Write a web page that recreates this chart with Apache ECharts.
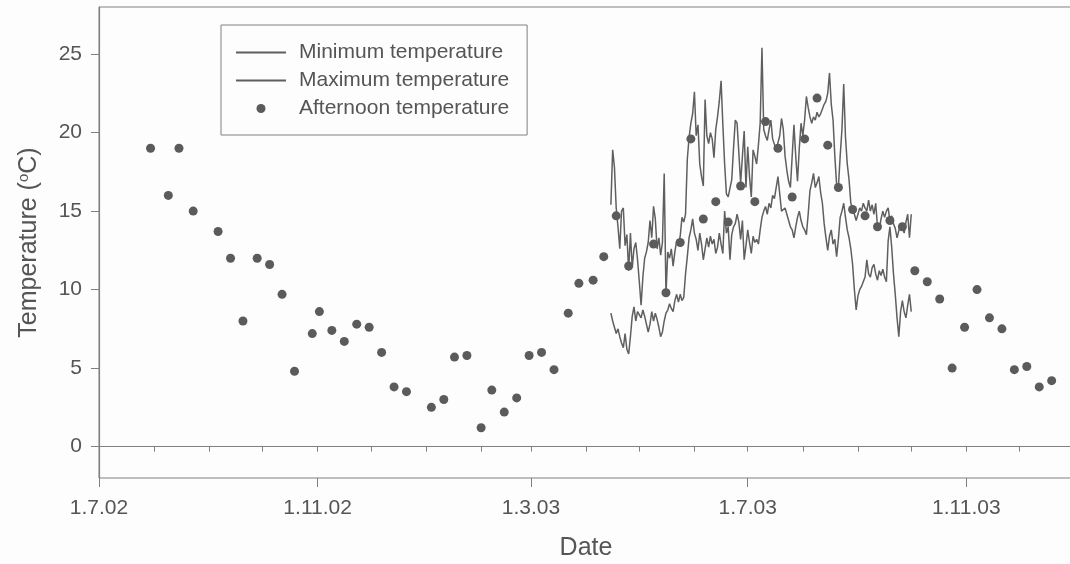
<!DOCTYPE html>
<html>
<head>
<meta charset="utf-8">
<script src="https://cdn.jsdelivr.net/npm/echarts@6/dist/echarts.min.js"></script>
<style>
  html, body { margin: 0; padding: 0; background: #fdfdfd; }
  #chart { width: 1070px; height: 564px; }
</style>
</head>
<body>
<div id="chart"></div>
<script>
// ---------------- DATA ----------------
const dailyStart = '2003-04-15';   // first day of daily min / max records

const minTemp = [
  8.5, 8.0, 7.6, 7.2, 7.5, 7.0, 6.6, 6.3, 7.2, 6.2,
  5.9, 7.0, 8.3, 8.9, 8.0, 8.6, 8.5, 8.2, 8.7, 8.3,
  7.8, 7.3, 7.8, 8.6, 8.0, 8.5, 8.1, 7.6, 7.0, 7.3,
  8.0, 8.5, 8.7, 9.1, 8.8, 8.6, 9.3, 9.7, 9.2, 9.7,
  9.3, 9.5, 11.0, 12.1, 13.3, 13.8, 14.5, 13.6, 13.2, 12.5,
  13.6, 12.9, 11.9, 12.6, 13.3, 12.7, 13.4, 12.9, 13.2, 12.3,
  12.7, 13.6, 12.9, 12.3, 15.0, 13.6, 14.0, 11.9, 13.5, 14.0,
  14.2, 14.8, 14.3, 13.2, 14.4, 11.9, 12.8, 13.8, 13.0, 12.3,
  13.4, 13.0, 13.2, 12.9, 13.8, 14.6, 15.0, 15.3, 14.8, 15.5,
  15.2, 16.0, 15.8, 16.5, 17.2, 16.1, 15.0, 14.9, 15.2, 14.8,
  14.4, 14.0, 13.8, 13.3, 14.0, 14.6, 15.0, 14.4, 14.0, 13.8,
  13.5, 14.8, 16.3, 16.8, 17.4, 16.5, 16.8, 17.2, 16.2, 15.5,
  14.2, 13.3, 12.5, 13.4, 13.8, 12.9, 13.2, 12.1, 13.2, 14.6,
  15.0, 15.5, 14.6, 13.8, 13.3, 12.6, 11.6, 10.0, 8.7, 9.6,
  10.0, 10.2, 10.5, 10.8, 11.9, 11.0, 10.8, 11.4, 11.6, 11.0,
  10.6, 11.2, 10.9, 11.3, 10.8, 10.5, 13.1, 14.0, 12.7, 11.0,
  9.7, 8.2, 7.0, 8.6, 9.3, 8.6, 8.2, 9.0, 9.7, 8.6
];

const maxTemp = [
  15.4, 18.9, 17.8, 15.2, 14.0, 12.6, 15.0, 15.2, 12.8, 13.5,
  11.2, 13.6, 11.4, 12.6, 13.0, 11.9, 10.5, 9.0, 10.8, 12.0,
  12.4, 13.0, 14.4, 13.3, 15.3, 14.5, 12.6, 13.3, 12.2, 13.0,
  17.4, 9.7, 12.4, 12.0, 12.6, 11.5, 12.4, 13.1, 12.8, 13.4,
  14.6, 14.3, 14.8, 18.3, 19.7, 20.6, 21.2, 22.6, 19.8, 20.5,
  18.0, 17.2, 16.6, 22.1, 19.8, 19.3, 20.0, 19.6, 18.4, 20.2,
  21.0, 22.0, 23.3, 20.5, 18.0, 16.1, 15.9, 15.8, 17.0, 19.0,
  20.8, 20.6, 20.5, 16.8, 18.5, 20.1, 16.5, 19.1, 17.2, 15.9,
  18.9, 18.5, 18.0, 19.2, 20.6, 25.4, 20.2, 19.8, 19.5, 20.2,
  20.8, 19.6, 19.5, 18.9, 18.9, 19.8, 20.9, 20.2, 18.5, 17.6,
  16.9, 16.5, 18.5, 20.5, 18.5, 16.9, 19.0, 20.6, 19.8, 20.8,
  22.3, 21.6, 21.0, 20.6, 21.0, 20.8, 21.3, 21.0, 21.2, 21.5,
  21.8, 22.0, 22.5, 23.8, 21.8, 20.8, 18.5, 16.7, 16.5, 18.5,
  20.2, 23.1, 19.7, 18.0, 17.0, 15.5, 15.2, 14.8, 14.4, 14.3,
  15.2, 15.0, 15.5, 15.2, 15.0, 15.7, 15.0, 15.4, 14.8, 15.5,
  14.0, 13.8, 14.5, 15.0, 14.6, 15.0, 15.2, 14.4, 14.7, 14.2,
  13.9, 13.3, 13.3, 14.2, 14.0, 13.6, 14.3, 14.8, 13.3, 14.8
];

const afternoonDates = [
  '2002-07-30','2002-08-09','2002-08-15','2002-08-23','2002-09-06','2002-09-13','2002-09-20','2002-09-28',
  '2002-10-05','2002-10-12','2002-10-19','2002-10-29','2002-11-02','2002-11-09','2002-11-16','2002-11-23',
  '2002-11-30','2002-12-07','2002-12-14','2002-12-21','2003-01-04','2003-01-11','2003-01-17','2003-01-24',
  '2003-02-01','2003-02-07','2003-02-14','2003-02-21','2003-02-28','2003-03-07','2003-03-14','2003-03-22',
  '2003-03-28','2003-04-05','2003-04-11','2003-04-18','2003-04-25','2003-05-09','2003-05-16','2003-05-24',
  '2003-05-30','2003-06-06','2003-06-13','2003-06-20','2003-06-27','2003-07-05','2003-07-11','2003-07-18',
  '2003-07-26','2003-08-02','2003-08-09','2003-08-15','2003-08-21','2003-08-29','2003-09-05','2003-09-12',
  '2003-09-19','2003-09-26','2003-10-03','2003-10-10','2003-10-17','2003-10-24','2003-10-31','2003-11-07',
  '2003-11-14','2003-11-21','2003-11-28','2003-12-05','2003-12-12','2003-12-19'
];
const afternoonTemp = [
  19.0, 16.0, 19.0, 15.0, 13.7, 12.0, 8.0, 12.0,
  11.6, 9.7, 4.8, 7.2, 8.6, 7.4, 6.7, 7.8,
  7.6, 6.0, 3.8, 3.5, 2.5, 3.0, 5.7, 5.8,
  1.2, 3.6, 2.2, 3.1, 5.8, 6.0, 4.9, 8.5,
  10.4, 10.6, 12.1, 14.7, 11.5, 12.9, 9.8, 13.0,
  19.6, 14.5, 15.6, 14.3, 16.6, 15.6, 20.7, 19.0,
  15.9, 19.6, 22.2, 19.2, 16.5, 15.1, 14.7, 14.0,
  14.4, 14.0, 11.2, 10.5, 9.4, 5.0, 7.6, 10.0,
  8.2, 7.5, 4.9, 5.1, 3.8, 4.2
];

const xTickDates  = ['2002-07-01','2002-11-01','2003-03-01','2003-07-01','2003-11-01'];
const xTickLabels = ['1.7.02','1.11.02','1.3.03','1.7.03','1.11.03'];
const xMinorTickDates = [
  '2002-07-01','2002-08-01','2002-09-01','2002-10-01','2002-11-01','2002-12-01',
  '2003-01-01','2003-02-01','2003-03-01','2003-04-01','2003-05-01','2003-06-01',
  '2003-07-01','2003-08-01','2003-09-01','2003-10-01','2003-11-01','2003-12-01'
];
const yTicks = [0, 5, 10, 15, 20, 25];
const xRange = ['2002-07-01', '2003-12-31'];
const yRange = [-2, 28];

// ---------------- BUILD ----------------
function ts(s) { const p = s.split('-').map(Number); return Date.UTC(p[0], p[1] - 1, p[2]); }
const DAY = 86400000;
const t0 = ts(dailyStart);
const minData = minTemp.map((v, i) => [t0 + i * DAY, v]);
const maxData = maxTemp.map((v, i) => [t0 + i * DAY, v]);
const aftData = afternoonDates.map((d, i) => [ts(d), afternoonTemp[i]]);
const labelMap = {};
xTickDates.forEach((d, i) => { labelMap[ts(d)] = xTickLabels[i]; });

const FONT = '"Liberation Sans", Arial, Helvetica, sans-serif';
const TXT = '#555';
const AX = '#808080';
const LINE = '#5f5f5f';

const chart = echarts.init(document.getElementById('chart'), null, { renderer: 'canvas' });
chart.setOption({
  backgroundColor: '#fdfdfd',
  animation: false,
  textStyle: { fontFamily: FONT },
  grid: {
    left: 99, right: -3, top: 7, bottom: 86,
    outerBoundsMode: 'none',
    containLabel: false,
    show: true, borderColor: AX, borderWidth: 1, backgroundColor: 'transparent'
  },
  legend: {
    orient: 'vertical',
    left: 221, top: 25,
    padding: [17, 18, 16, 14],
    borderColor: AX, borderWidth: 1,
    itemWidth: 50, itemHeight: 9, itemGap: 7,
    textStyle: { fontSize: 21, color: TXT, fontFamily: FONT, padding: [0, 0, 0, 8] },
    data: [
      { name: 'Minimum temperature', itemStyle: { opacity: 0 } },
      { name: 'Maximum temperature', itemStyle: { opacity: 0 } },
      { name: 'Afternoon temperature' }
    ]
  },
  xAxis: [
    {
      type: 'value',
      min: ts(xRange[0]), max: ts(xRange[1]),
      position: 'bottom',
      axisLine: { show: true, lineStyle: { color: AX, width: 1.2 } },
      axisTick: { show: true, inside: false, length: 5, customValues: xMinorTickDates.map(ts), lineStyle: { color: AX } },
      axisLabel: { show: false },
      splitLine: { show: false },
      name: 'Date',
      nameLocation: 'middle',
      nameGap: 58,
      nameTextStyle: { fontSize: 25, color: TXT, fontFamily: FONT }
    },
    {
      type: 'value',
      min: ts(xRange[0]), max: ts(xRange[1]),
      position: 'bottom',
      axisLine: { show: false },
      axisTick: { show: true, inside: false, length: 9, customValues: xTickDates.map(ts), lineStyle: { color: AX } },
      axisLabel: {
        show: true, customValues: xTickDates.map(ts), margin: 20,
        fontSize: 21, color: TXT, fontFamily: FONT,
        formatter: v => labelMap[v] || ''
      },
      splitLine: { show: false }
    }
  ],
  yAxis: {
    type: 'value',
    min: yRange[0], max: yRange[1],
    axisLine: { show: true, lineStyle: { color: AX, width: 1.2 } },
    axisTick: { show: true, inside: false, length: 8, customValues: yTicks, lineStyle: { color: AX } },
    axisLabel: { customValues: yTicks, margin: 17, fontSize: 21, color: TXT, fontFamily: FONT },
    splitLine: { show: false },
    name: '{a|Temperature (}{s|o}{a|C)}',
    nameLocation: 'middle',
    nameGap: 57,
    nameTextStyle: {
      color: TXT, fontFamily: FONT,
      rich: {
        a: { fontSize: 25, color: TXT, fontFamily: FONT },
        s: { fontSize: 15, color: TXT, fontFamily: FONT, verticalAlign: 'bottom', padding: [0, 0, 11, 0] }
      }
    }
  },
  series: [
    {
      name: 'Minimum temperature', type: 'line', xAxisIndex: 0,
      data: minData, symbol: 'none', showSymbol: false,
      lineStyle: { color: LINE, width: 1.5 }, itemStyle: { color: LINE }, z: 2
    },
    {
      name: 'Maximum temperature', type: 'line', xAxisIndex: 0,
      data: maxData, symbol: 'none', showSymbol: false,
      lineStyle: { color: LINE, width: 1.5 }, itemStyle: { color: LINE }, z: 2
    },
    {
      name: 'Afternoon temperature', type: 'scatter', xAxisIndex: 0,
      data: aftData, symbol: 'circle', symbolSize: 9,
      itemStyle: { color: '#5b5b5b', opacity: 1 }, z: 3
    }
  ]
});
</script>
</body>
</html>
